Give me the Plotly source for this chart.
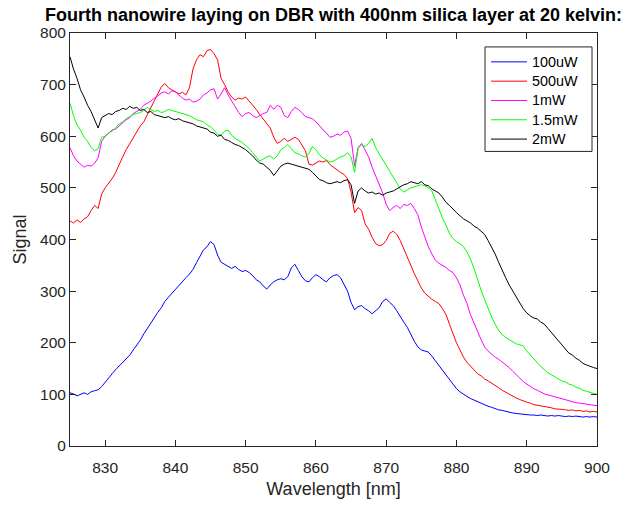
import numpy as np
import plotly.graph_objects as go

# Wavelength sampling (nm), 0.5 nm steps from 825 to 900
wavelength_nm = 825 + 0.5 * np.arange(151)

signal_100uW = [
    103, 101, 97, 100, 103, 100, 105, 107, 109, 115,
    124, 131, 140, 148, 155, 163, 169, 176, 186, 195,
    205, 217, 228, 238, 250, 259, 268, 280, 288, 296,
    304, 312, 318, 326, 333, 342, 355, 368, 380, 386,
    396, 390, 370, 356, 352, 348, 344, 348, 342, 338,
    340, 336, 330, 322, 318, 310, 304, 312, 318, 322,
    324, 322, 328, 345, 352, 340, 328, 320, 318, 326,
    332, 328, 322, 318, 326, 330, 332, 326, 312, 300,
    278, 264, 270, 272, 266, 262, 256, 262, 268, 280,
    285, 278, 272, 262, 250, 240, 230, 216, 203, 192,
    186, 184, 182, 174, 165, 156, 146, 136, 127, 119,
    111, 105, 100, 96, 92, 89, 85, 82, 80, 77,
    75, 72, 70, 69, 67, 66, 64, 63, 62, 61,
    61, 60, 60, 59, 60, 59, 58, 59, 58, 59,
    58, 57, 58, 57, 58, 57, 56, 57, 56, 57,
    56,
]

signal_500uW = [
    436, 432, 438, 433, 440, 444, 456, 466, 460, 488,
    500, 508, 518, 530, 546, 560, 574, 586, 598, 610,
    620, 628, 642, 655, 668, 684, 696, 702, 694, 690,
    686, 682, 685, 680, 694, 730, 748, 758, 754, 766,
    768, 760, 748, 712, 700, 686, 676, 670, 674, 672,
    676, 668, 662, 652, 642, 634, 626, 616, 598, 586,
    590, 596, 590, 594, 598, 594, 584, 572, 546, 544,
    548, 552, 550, 553, 545, 540, 534, 530, 526, 518,
    492, 452, 462, 456, 430, 420, 404, 392, 388, 390,
    398, 412, 416, 410, 398, 382, 364, 350, 334, 320,
    306, 296, 290, 284, 280, 276, 266, 255, 236, 216,
    200, 186, 172, 162, 154, 147, 140, 136, 130, 126,
    122, 118, 113, 108, 104, 100, 96, 93, 90, 87,
    85, 83, 80, 79, 78, 76, 75, 74, 72, 72,
    71, 70, 69, 70, 68, 69, 67, 68, 66, 67,
    66,
]

signal_1mW = [
    578, 562, 552, 546, 540, 544, 542, 548, 558, 590,
    600, 606, 612, 614, 620, 626, 632, 636, 644, 648,
    652, 660, 664, 668, 674, 678, 684, 686, 682, 688,
    686, 680, 674, 670, 672, 666, 668, 672, 680, 684,
    690, 692, 672, 682, 694, 680, 668, 656, 646, 638,
    644, 646, 640, 636, 640, 644, 646, 660, 652, 660,
    656, 640, 636, 648, 656, 652, 646, 638, 636, 634,
    628, 620, 612, 604, 598, 600, 604, 602, 608, 610,
    596, 542, 578, 586, 572, 560, 540, 524, 506, 490,
    468, 456, 462, 466, 460, 468, 466, 470, 460, 448,
    424, 404, 386, 372, 360, 354, 350, 346, 340, 336,
    326, 312, 292, 276, 254, 236, 222, 206, 192, 184,
    178, 172, 168, 163, 158, 152, 145, 138, 131, 125,
    120, 115, 111, 108, 104, 101, 99, 97, 95, 93,
    91, 89, 87, 86, 84, 83, 82, 81, 80, 79,
    78,
]

signal_1p5mW = [
    664, 640, 622, 612, 598, 590, 578, 572, 576, 598,
    600, 606, 610, 616, 624, 628, 634, 638, 642, 644,
    646, 650, 656, 652, 648, 650, 646, 648, 652, 650,
    648, 646, 644, 642, 640, 636, 632, 630, 628, 622,
    618, 612, 604, 602, 610, 612, 602, 596, 592, 588,
    582, 576, 568, 560, 552, 556, 560, 562, 556, 562,
    574, 578, 584, 576, 568, 566, 562, 560, 566, 580,
    574, 564, 558, 554, 550, 552, 556, 560, 562, 568,
    560, 530, 576, 584, 580, 586, 596, 578, 566, 556,
    544, 532, 522, 510, 498, 492, 496, 500, 502, 504,
    506, 504, 500, 494, 476, 460, 442, 428, 412, 402,
    396, 392, 386, 376, 362, 344, 322, 302, 284, 266,
    250, 236, 224, 216, 210, 206, 202, 198, 196, 194,
    184, 176, 168, 162, 154, 148, 142, 138, 134, 130,
    126, 124, 120, 118, 114, 112, 108, 106, 104, 102,
    100,
]

signal_2mW = [
    754, 730, 712, 690, 676, 660, 648, 632, 616, 636,
    640, 644, 642, 648, 650, 654, 652, 658, 654, 656,
    650, 652, 646, 648, 642, 640, 638, 636, 638, 634,
    632, 634, 630, 628, 626, 624, 620, 618, 616, 614,
    608, 606, 600, 602, 594, 592, 588, 584, 582, 578,
    574, 568, 562, 554, 548, 546, 540, 534, 524, 532,
    542, 546, 548, 546, 544, 542, 540, 538, 536, 530,
    522, 516, 514, 510, 508, 510, 512, 510, 514, 516,
    506, 470, 494, 500, 494, 490, 492, 488, 490, 486,
    490, 492, 494, 498, 502, 506, 508, 512, 510, 508,
    512, 506, 504, 498, 494, 490, 482, 472, 466, 458,
    452, 446, 440, 436, 432, 426, 422, 416, 410, 398,
    386, 372, 356, 340, 326, 312, 300, 288, 276, 266,
    258, 252, 248, 246, 240, 236, 228, 220, 212, 204,
    196, 188, 180, 176, 170, 166, 160, 157, 154, 152,
    150,
]

series_names = ["100uW", "500uW", "1mW", "1.5mW", "2mW"]
series_values = [signal_100uW, signal_500uW, signal_1mW, signal_1p5mW, signal_2mW]
series_colors = ["#0000FF", "#FF0000", "#FF00FF", "#00FF00", "#000000"]

FONT = "Liberation Sans, Arial, Helvetica, sans-serif"
AXIS_COLOR = "#262626"

# Figure / plot-area geometry in pixels
W, H = 627, 507
ML, MR, MT, MB = 70, 30, 33, 59
PW, PH = W - ML - MR, H - MT - MB

fig = go.Figure()
for name, vals, color in zip(series_names, series_values, series_colors):
    fig.add_trace(go.Scatter(
        x=wavelength_nm, y=vals, mode="lines", name=name,
        line=dict(color=color, width=1), showlegend=False,
    ))

# Boxed legend in the upper right corner (MATLAB style)
def px_x(px):
    return (px - ML) / PW

def px_y(py):
    return (H - MB - py) / PH

box_l, box_r, box_t, box_b = 485, 592, 47, 152
row_y0, row_dy = 62, 19.4
line_x0, line_x1, text_x = 491, 527, 530

shapes = [dict(
    type="rect", xref="paper", yref="paper",
    x0=px_x(box_l), x1=px_x(box_r), y0=px_y(box_b), y1=px_y(box_t),
    line=dict(color=AXIS_COLOR, width=1), fillcolor="white", layer="above",
)]
annotations = []
for i, (name, color) in enumerate(zip(series_names, series_colors)):
    yy = px_y(row_y0 + i * row_dy)
    shapes.append(dict(
        type="line", xref="paper", yref="paper",
        x0=px_x(line_x0), x1=px_x(line_x1), y0=yy, y1=yy,
        line=dict(color=color, width=1), layer="above",
    ))
    annotations.append(dict(
        xref="paper", yref="paper", x=px_x(text_x), y=yy,
        xanchor="left", yanchor="middle", showarrow=False,
        text=name, font=dict(family=FONT, size=14.4, color="#000000"),
    ))

axis_common = dict(
    ticks="inside", ticklen=6, tickwidth=1, tickcolor=AXIS_COLOR,
    showline=True, linecolor=AXIS_COLOR, linewidth=1, mirror="ticks",
    showgrid=False, zeroline=False,
    tickfont=dict(family=FONT, size=15.5, color=AXIS_COLOR),
)

fig.update_layout(
    width=W, height=H,
    margin=dict(l=ML, r=MR, t=MT, b=MB),
    paper_bgcolor="white", plot_bgcolor="white",
    font=dict(family=FONT, color=AXIS_COLOR),
    title=dict(
        text="<b>Fourth nanowire laying on DBR with 400nm silica layer at 20 kelvin:</b>",
        font=dict(family=FONT, size=18, color="#000000"),
        x=0.5, xref="paper", xanchor="center",
        y=1 - 15 / H, yref="container", yanchor="middle",
    ),
    xaxis=dict(
        range=[825, 900], tick0=830, dtick=10,
        ticklabelstandoff=7,
        title=dict(text="Wavelength [nm]", font=dict(family=FONT, size=18, color=AXIS_COLOR), standoff=7),
        **axis_common,
    ),
    yaxis=dict(
        range=[0, 800], tick0=0, dtick=100,
        title=dict(text="Signal", font=dict(family=FONT, size=18, color=AXIS_COLOR), standoff=8),
        **axis_common,
    ),
    shapes=shapes,
    annotations=annotations,
    showlegend=False,
)

fig.write_html("out.html")
